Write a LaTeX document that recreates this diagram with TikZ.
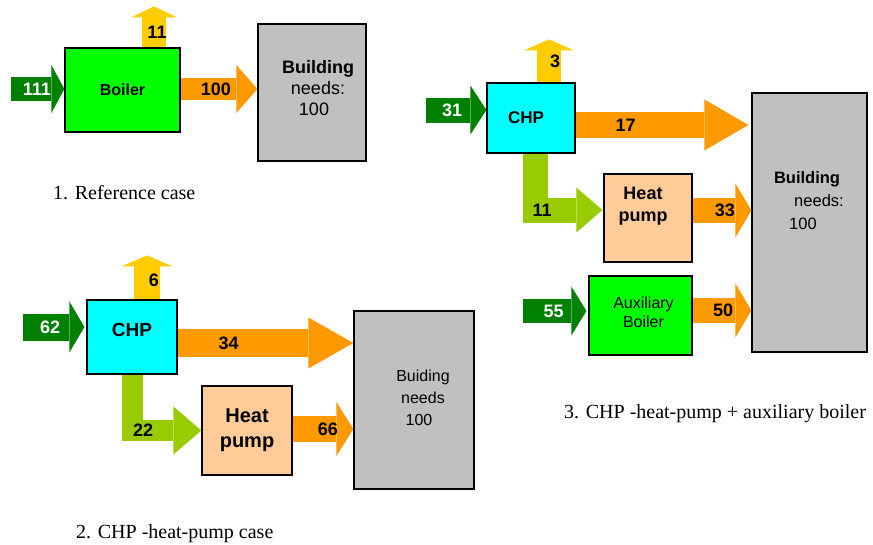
\documentclass[tikz,border=0pt]{standalone}
\usepackage{fontspec}
\setmainfont{Liberation Sans}
\newfontfamily\capfont{Liberation Serif}
\usetikzlibrary{arrows.meta, positioning}

\definecolor{fuelgreen}{HTML}{008000}
\definecolor{lossyellow}{HTML}{FFCC00}
\definecolor{heatorange}{HTML}{FF9900}
\definecolor{elecgreen}{HTML}{99CC00}
\definecolor{boilergreen}{HTML}{00FF00}
\definecolor{chpcyan}{HTML}{00FFFF}
\definecolor{pumppeach}{HTML}{FFCC99}
\definecolor{buildgray}{HTML}{C0C0C0}

\newcommand{\setfs}[2]{\fontsize{#1}{#2}\selectfont}

\begin{document}
\begin{tikzpicture}[
x=1pt, y=-1pt,
every node/.style={font=\setfs{16}{19}},
unit/.style={draw, line width=1.2pt, inner sep=0pt},
unittext/.style={align=center, inner sep=0pt},
flow/.style n args={4}{draw=#1, line width=#2, line join=miter,
  -{Triangle[width=#3, length=#4, line width=0pt]}},
num/.style={font=\setfs{18}{20}\bfseries, inner sep=0pt},
caption/.style={font=\capfont\setfs{20}{24}, anchor=base west, inner sep=0pt}
]
\useasboundingbox (0,0) rectangle (873,544);

% 1. reference case
\node[unit, fill=boilergreen, minimum width=115pt, minimum height=84pt,
  font=\setfs{16}{19}\bfseries] (boiler) at (122.5,90) {Boiler};
\node[unit, fill=buildgray, minimum width=108pt, minimum height=137pt] (bld1) at (312,92.5) {};
\node[unittext, font=\setfs{18}{21}] (bld1txt) at ([xshift=6pt,yshift=4.5pt]bld1.center)
  {\textbf{Building}\\needs:\\100\hspace*{8pt}};

\draw[flow={fuelgreen}{24pt}{48pt}{13pt}] ([xshift=-53pt,yshift=1pt]boiler.west)
  -- node[num, text=white, pos=0.48] {111} ([yshift=1pt]boiler.west);
\draw[flow={lossyellow}{24pt}{46pt}{11pt}] ([xshift=31.5pt]boiler.north)
  -- node[num, pos=0.37, xshift=3pt] {11} ++(0,-41);
\draw[flow={heatorange}{22pt}{48pt}{21pt}] ([yshift=1pt]boiler.east)
  -- node[num, pos=0.46] {100} ([yshift=3.5pt]bld1.west);

\node[caption] (cap1) at (53,199) {1. Reference case};

% 2. CHP - heat pump
\node[unit, fill=chpcyan, minimum width=90pt, minimum height=74pt] (chp2) at (132,337) {};
\node[unittext, font=\setfs{19}{22}\bfseries] (chp2txt) at ([yshift=7pt]chp2.center) {CHP};
\node[unit, fill=pumppeach, minimum width=90pt, minimum height=89pt,
  align=center, font=\setfs{20}{25}\bfseries] (hp2) at (247,430.5) {Heat\\pump};
\node[unit, fill=buildgray, minimum width=120pt, minimum height=178pt] (bld2) at (414,400) {};
\node[unittext, font=\setfs{16}{22}] (bld2txt) at ([xshift=9pt,yshift=2pt]bld2.center)
  {Buiding\\needs\\100\hspace*{8pt}};

\draw[flow={fuelgreen}{27pt}{51pt}{15pt}] ([xshift=-63pt,yshift=10pt]chp2.west)
  -- node[num, text=white, pos=0.44] {62} ([xshift=-2pt,yshift=10pt]chp2.west);
\draw[flow={lossyellow}{26pt}{51pt}{11pt}] ([xshift=15pt]chp2.north)
  -- node[num, pos=0.43, xshift=7pt] {6} ++(0,-44);
\draw[flow={heatorange}{28pt}{51pt}{45pt}] ([yshift=-6pt]chp2.east)
  -- node[num, pos=0.29] {34} ([yshift=57pt]bld2.west);
\draw[flow={elecgreen}{21pt}{48pt}{28pt}] (chp2.south)
  |- node[num, pos=0.58] {22} (hp2.west);
\draw[flow={heatorange}{26pt}{54pt}{17pt}] ([yshift=1.5pt]hp2.east)
  -- node[num, pos=0.58] {66} ([yshift=-29pt]bld2.west);

\node[caption] (cap2) at (76,538) {2. CHP -heat-pump case};

% 3. CHP - heat pump + auxiliary boiler
\node[unit, fill=chpcyan, minimum width=88pt, minimum height=70pt] (chp3) at (531,118) {};
\node[unittext, font=\setfs{17}{20}\bfseries] (chp3txt) at ([xshift=-5pt]chp3.center) {CHP};
\node[unit, fill=pumppeach, minimum width=88pt, minimum height=88pt] (hp3) at (648,218) {};
\node[unittext, font=\setfs{18}{22}\bfseries] (hp3txt) at ([xshift=-5pt,yshift=12pt]hp3.center) {Heat\\pump};
\node[unit, fill=boilergreen, minimum width=103pt, minimum height=79pt] (aux3) at (640.5,315.5) {};
\node[unittext, font=\setfs{16}{19}] (aux3txt) at ([xshift=3pt,yshift=3pt]aux3.center) {Auxiliary\\Boiler};
\node[unit, fill=buildgray, minimum width=115pt, minimum height=259pt] (bld3) at (809.5,222.5) {};
\node[unittext, font=\setfs{16.5}{23}] (bld3txt) at ([xshift=-2.5pt,yshift=21.5pt]bld3.center)
  {\textbf{Building}\\\hspace*{24pt}needs:\\100\hspace*{8pt}};

\draw[flow={fuelgreen}{25pt}{49pt}{16pt}] ([xshift=-60pt,yshift=8pt]chp3.west)
  -- node[num, text=white, pos=0.43] {31} ([yshift=8pt]chp3.west);
\draw[flow={lossyellow}{24pt}{50pt}{11pt}] ([xshift=18pt]chp3.north)
  -- node[num, pos=0.49, xshift=6pt] {3} ++(0,-43);
\draw[flow={heatorange}{26pt}{51pt}{44pt}] ([yshift=-7pt]chp3.east)
  -- node[num, pos=0.29] {17} ([xshift=-3pt,yshift=97.5pt]bld3.west);
\draw[flow={elecgreen}{25pt}{45pt}{26pt}] ([xshift=4.5pt]chp3.south)
  |- node[num, pos=0.55] {11} ([xshift=-1pt,yshift=8pt]hp3.west);
\draw[flow={heatorange}{25pt}{54pt}{16pt}] ([yshift=7.5pt]hp3.east)
  -- node[num, pos=0.55] {33} ([yshift=12pt]bld3.west);
\draw[flow={fuelgreen}{24pt}{49pt}{15pt}] ([xshift=-65pt,yshift=4.5pt]aux3.west)
  -- node[num, text=white, pos=0.48] {55} ([xshift=-2pt,yshift=4.5pt]aux3.west);
\draw[flow={heatorange}{25pt}{54pt}{16pt}] ([yshift=5pt]aux3.east)
  -- node[num, pos=0.52] {50} ([yshift=-88pt]bld3.west);

\node[caption] (cap3) at (564,418) {3. CHP -heat-pump + auxiliary boiler};

\end{tikzpicture}
\end{document}
